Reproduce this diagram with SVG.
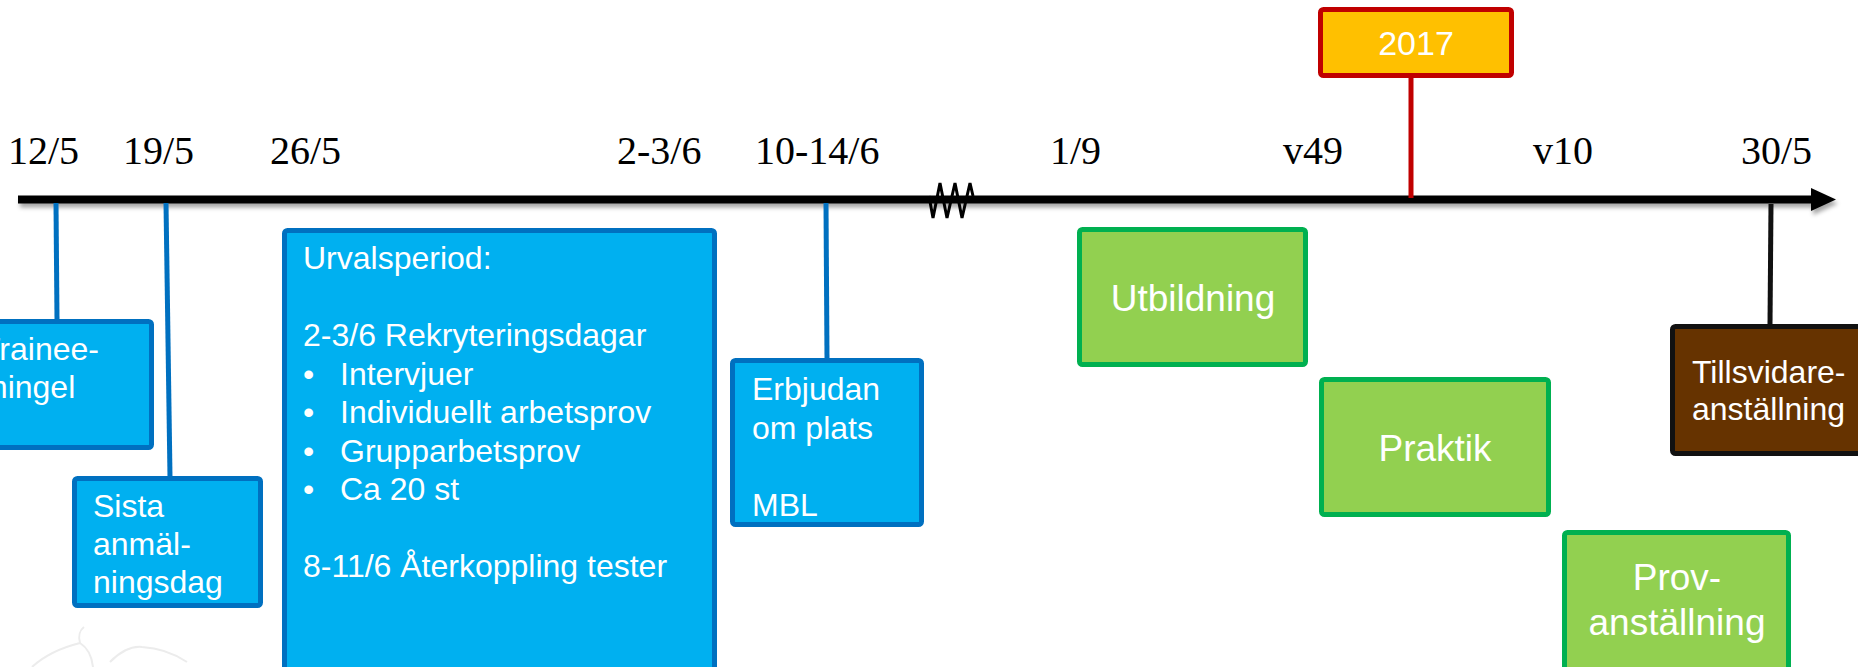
<svg xmlns="http://www.w3.org/2000/svg" width="1858" height="667" viewBox="0 0 1858 667">
<style>
.date{font-family:"Liberation Serif","Times New Roman",serif;font-size:40px;fill:#000}
.t{font-family:"Liberation Sans",Arial,sans-serif;font-size:32px;fill:#fff}
.tl{font-family:"Liberation Sans",Arial,sans-serif;font-size:37px;fill:#fff}
.blue{fill:#00B0F0;stroke:#0070C0;stroke-width:5}
.green{fill:#92D050;stroke:#00B050;stroke-width:5}
.conn{fill:none;stroke-width:5}
</style>
<defs>
<filter id="sh" x="-5%" y="-100%" width="110%" height="300%">
<feDropShadow dx="2" dy="4" stdDeviation="2" flood-color="#000" flood-opacity="0.35"/>
</filter>
</defs>
<rect width="1858" height="667" fill="#fff"/>
<g id="watermark" fill="none" stroke="#ececec" stroke-width="2">
<path d="M32,667 C45,655 60,648 80,643 C88,648 92,658 93,667"/>
<path d="M80,643 C78,636 80,630 84,627"/>
<path d="M110,662 C120,652 132,646 142,647 C160,648 175,654 187,662"/>
</g>
<g id="axis" filter="url(#sh)">
<line x1="18" y1="199.5" x2="1814" y2="199.5" stroke="#000" stroke-width="8"/>
<polygon points="1811,188 1836,199.5 1811,211" fill="#000"/>
</g>
<g id="connectors">
<line class="conn" x1="56" y1="203" x2="57" y2="320" stroke="#0070C0"/>
<line class="conn" x1="166" y1="203" x2="170" y2="477" stroke="#0070C0"/>
<line class="conn" x1="826" y1="203" x2="827" y2="359" stroke="#0070C0"/>
<line class="conn" x1="1411" y1="78" x2="1411" y2="198" stroke="#C00000"/>
<line class="conn" x1="1771" y1="204" x2="1770" y2="325" stroke="#111" stroke-width="4"/>
</g>
<g id="break">
<path d="M929,196 L933,218 L940,183 L947,218 L955,183 L962,218 L970,183 L973,196" fill="none" stroke="#000" stroke-width="3" stroke-linejoin="miter"/>
</g>
<g id="dates">
<text class="date" x="8" y="164">12/5</text>
<text class="date" x="123" y="164">19/5</text>
<text class="date" x="270" y="164">26/5</text>
<text class="date" x="617" y="164">2-3/6</text>
<text class="date" x="755" y="164">10-14/6</text>
<text class="date" x="1050" y="164">1/9</text>
<text class="date" x="1283" y="164">v49</text>
<text class="date" x="1533" y="164">v10</text>
<text class="date" x="1741" y="164">30/5</text>
</g>
<g id="year2017">
<rect x="1320.5" y="9.5" width="191" height="66" rx="3" fill="#FFC000" stroke="#C00000" stroke-width="5"/>
<text class="t" x="1416" y="55" text-anchor="middle" style="font-size:34px">2017</text>
</g>
<g id="trainee">
<rect x="-10" y="321.5" width="161.5" height="126" rx="3" class="blue"/>
<text class="t" x="-19" y="360">Trainee-</text>
<text class="t" x="-19" y="398">mingel</text>
</g>
<g id="sista">
<rect x="74.5" y="478.5" width="186" height="127" rx="3" class="blue"/>
<text class="t" x="93" y="517">Sista</text>
<text class="t" x="93" y="555">anmäl-</text>
<text class="t" x="93" y="593">ningsdag</text>
</g>
<g id="urval">
<rect x="284.5" y="230.5" width="430" height="445" rx="3" class="blue"/>
<text class="t" x="303" y="269">Urvalsperiod:</text>
<text class="t" x="303" y="346">2-3/6 Rekryteringsdagar</text>
<text class="t" x="303" y="384.5">•</text><text class="t" x="340" y="384.5">Intervjuer</text>
<text class="t" x="303" y="423">•</text><text class="t" x="340" y="423">Individuellt arbetsprov</text>
<text class="t" x="303" y="461.5">•</text><text class="t" x="340" y="461.5">Grupparbetsprov</text>
<text class="t" x="303" y="500">•</text><text class="t" x="340" y="500">Ca 20 st</text>
<text class="t" x="303" y="577">8-11/6 Återkoppling tester</text>
</g>
<g id="erbjudan">
<rect x="732.5" y="360.5" width="189" height="164" rx="3" class="blue"/>
<text class="t" x="752" y="400">Erbjudan</text>
<text class="t" x="752" y="438.5">om plats</text>
<text class="t" x="752" y="515.5">MBL</text>
</g>
<g id="utbildning">
<rect x="1079.5" y="229.5" width="226" height="135" rx="3" class="green"/>
<text class="tl" x="1193" y="311" text-anchor="middle">Utbildning</text>
</g>
<g id="praktik">
<rect x="1321.5" y="379.5" width="227" height="135" rx="3" class="green"/>
<text class="tl" x="1435" y="461" text-anchor="middle">Praktik</text>
</g>
<g id="prov">
<rect x="1564.5" y="532.5" width="224" height="145" rx="3" class="green"/>
<text class="tl" x="1677" y="590" text-anchor="middle">Prov-</text>
<text class="tl" x="1677" y="635" text-anchor="middle">anställning</text>
</g>
<g id="tillsvidare">
<rect x="1672.5" y="326.5" width="200" height="127" rx="3" fill="#663300" stroke="#111" stroke-width="5"/>
<text class="t" x="1692" y="383">Tillsvidare-</text>
<text class="t" x="1692" y="420">anställning</text>
</g>
</svg>
